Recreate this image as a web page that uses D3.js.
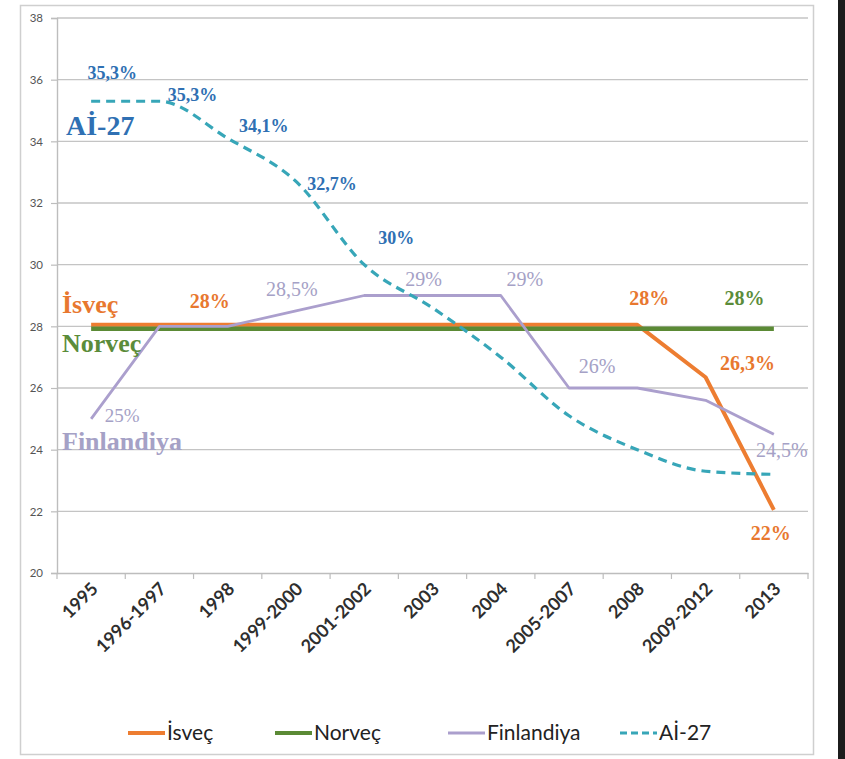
<!DOCTYPE html>
<html><head><meta charset="utf-8">
<script src="https://cdn.jsdelivr.net/npm/d3@7"></script>
<style>html,body{margin:0;padding:0;background:#fff;}svg{display:block;}</style>
</head><body>
<script>
const categories = ["1995","1996-1997","1998","1999-2000","2001-2002","2003","2004","2005-2007","2008","2009-2012","2013"];
const isvec      = [28, 28, 28, 28, 28, 28, 28, 28, 28, 26.3, 22];
const norvec     = [28, 28, 28, 28, 28, 28, 28, 28, 28, 28, 28];
const finlandiya = [25, 28, 28, 28.5, 29, 29, 29, 26, 26, 25.6, 24.5];
const ai27       = [35.3, 35.3, 34.1, 32.7, 30, 28.6, 27, 25.1, 24, 23.3, 23.2];
const yTicks = [20,22,24,26,28,30,32,34,36,38];
const seriesNames = ["İsveç","Norveç","Finlandiya","Aİ-27"];

const W = 845, H = 759;
const svg = d3.select("body").append("svg").attr("width", W).attr("height", H);
svg.append("rect").attr("width", W).attr("height", H).attr("fill", "#fff");
// frame
svg.append("rect").attr("x", 20.5).attr("y", 5.5).attr("width", 793).attr("height", 749)
  .attr("fill", "#fff").attr("stroke", "#cfcfcf").attr("stroke-width", 1.5);
// dark strip at right
svg.append("rect").attr("x", 838).attr("y", 0).attr("width", 7).attr("height", H).attr("fill", "#1c1c1c");

const x = d3.scaleBand().domain(categories).range([57, 808]).paddingInner(0).paddingOuter(0);
const y = d3.scaleLinear().domain([20, 38]).range([573, 18]);
const cx = c => x(c) + x.bandwidth() / 2;

// gridlines
svg.append("g").selectAll("line").data(yTicks.filter(t => t > 20)).join("line")
  .attr("x1", 57).attr("x2", 808).attr("y1", d => y(d)).attr("y2", d => y(d))
  .attr("stroke", "#c4c4c4").attr("stroke-width", 1.4);

// y axis
const yAxis = svg.append("g").attr("transform", "translate(57,0)")
  .call(d3.axisLeft(y).tickValues(yTicks).tickSize(6).tickPadding(8).tickFormat(d3.format("d")));
yAxis.select(".domain").attr("stroke", "#bdbdbd").attr("stroke-width", 1.4);
yAxis.selectAll(".tick line").attr("stroke", "#bdbdbd").attr("stroke-width", 1.2);
yAxis.selectAll("text").attr("font-family", "Lato, 'Open Sans', sans-serif").attr("font-size", 11.5)
  .attr("fill", "#555");

// x axis
const xAxis = svg.append("g").attr("transform", "translate(0,573)")
  .call(d3.axisBottom(x).tickSize(0).tickPadding(0));
xAxis.select(".domain").attr("stroke", "#bdbdbd").attr("stroke-width", 1.4);
// tick marks at band boundaries
const bounds = categories.map(c => x(c)).concat([x(categories[categories.length - 1]) + x.bandwidth()]);
svg.append("g").selectAll("line").data(bounds).join("line")
  .attr("x1", d => d).attr("x2", d => d)
  .attr("y1", 573).attr("y2", 579).attr("stroke", "#bdbdbd").attr("stroke-width", 1.2);
xAxis.selectAll(".tick text")
  .attr("font-family", "Lato, 'Open Sans', sans-serif").attr("font-size", 18).attr("font-weight", "bold")
  .attr("fill", "#2e2e2e")
  .attr("text-anchor", "end").attr("dy", 0)
  .attr("transform", "translate(8,17) rotate(-45)");

const colors = {isvec: "#ed7d31", norvec: "#5b8a35", fin: "#ab9fcd", ai: "#37a6b8"};

const lineStraight = d3.line().x((d, i) => cx(categories[i])).y(d => y(d));
const lineSmooth = d3.line().x((d, i) => cx(categories[i])).y(d => y(d)).curve(d3.curveMonotoneX);

svg.append("path").datum(isvec).attr("d", lineStraight).attr("fill", "none")
  .attr("stroke", colors.isvec).attr("stroke-width", 4).attr("stroke-linejoin", "round")
  .attr("transform", "translate(0,-1.5)");
svg.append("path").datum(norvec).attr("d", lineStraight).attr("fill", "none")
  .attr("stroke", colors.norvec).attr("stroke-width", 4.5)
  .attr("transform", "translate(0,2.5)");
svg.append("path").datum(finlandiya).attr("d", lineStraight).attr("fill", "none")
  .attr("stroke", colors.fin).attr("stroke-width", 2.8).attr("stroke-linejoin", "round");
svg.append("path").datum(ai27).attr("d", lineSmooth).attr("fill", "none")
  .attr("stroke", colors.ai).attr("stroke-width", 3.2).attr("stroke-dasharray", "9,6");

// data labels
const fmt = v => String(v).replace(".", ",") + "%";
const serif = "'Liberation Serif', 'Times New Roman', serif";
const labelSpecs = [
  {data: ai27, i: 0, dx: 21, dy: -22, color: "#2f70b3", w: "bold", s: 18},
  {data: ai27, i: 1, dx: 33, dy: 0, color: "#2f70b3", w: "bold", s: 18},
  {data: ai27, i: 2, dx: 36, dy: -6, color: "#2f70b3", w: "bold", s: 18},
  {data: ai27, i: 3, dx: 36, dy: 9, color: "#2f70b3", w: "bold", s: 18},
  {data: ai27, i: 4, dx: 32, dy: -21, color: "#2f70b3", w: "bold", s: 18},
  {data: isvec, i: 2, dx: -18, dy: -18, color: "#e8782f", w: "bold", s: 20},
  {data: isvec, i: 8, dx: 12, dy: -21, color: "#e8782f", w: "bold", s: 20},
  {data: isvec, i: 9, dx: 42, dy: -9, color: "#e8782f", w: "bold", s: 20},
  {data: isvec, i: 10, dx: -3, dy: 29, color: "#e8782f", w: "bold", s: 20},
  {data: norvec, i: 9, dx: 39, dy: -21, color: "#5b8c3a", w: "bold", s: 20},
  {data: finlandiya, i: 0, dx: 31, dy: 3, color: "#a5a1c6", w: "normal", s: 19},
  {data: finlandiya, i: 3, dx: -4, dy: -15, color: "#a5a1c6", w: "normal", s: 20},
  {data: finlandiya, i: 5, dx: -9, dy: -10, color: "#a5a1c6", w: "normal", s: 20},
  {data: finlandiya, i: 6, dx: 24, dy: -10, color: "#a5a1c6", w: "normal", s: 20},
  {data: finlandiya, i: 7, dx: 28, dy: -15, color: "#a5a1c6", w: "normal", s: 20},
  {data: finlandiya, i: 10, dx: 8, dy: 23, color: "#a5a1c6", w: "normal", s: 20}
];
svg.append("g").selectAll("text").data(labelSpecs).join("text")
  .attr("x", d => cx(categories[d.i]) + d.dx)
  .attr("y", d => y(d.data[d.i]) + d.dy)
  .attr("text-anchor", "middle")
  .attr("font-family", serif).attr("font-weight", d => d.w).attr("font-size", d => d.s)
  .attr("fill", d => d.color).text(d => fmt(d.data[d.i]));

// series names inside chart
const nameSpecs = [
  {name: seriesNames[3], x: 66, y: 135, color: "#2f70b3", s: 28},
  {name: seriesNames[0], x: 62, y: 313, color: "#e8782f", s: 26},
  {name: seriesNames[1], x: 62, y: 352, color: "#5b8c3a", s: 26},
  {name: seriesNames[2], x: 62, y: 450, color: "#a5a1c6", s: 26}
];
svg.append("g").selectAll("text").data(nameSpecs).join("text")
  .attr("x", d => d.x).attr("y", d => d.y)
  .attr("font-family", serif).attr("font-weight", "bold").attr("font-size", d => d.s)
  .attr("fill", d => d.color).text(d => d.name);

// legend
const legendItems = [
  {name: seriesNames[0], color: colors.isvec, x: 128, dash: null, w: 4},
  {name: seriesNames[1], color: colors.norvec, x: 275, dash: null, w: 4},
  {name: seriesNames[2], color: colors.fin, x: 448, dash: null, w: 3},
  {name: seriesNames[3], color: colors.ai, x: 620, dash: "7,4", w: 3}
];
const lg = svg.append("g").selectAll("g").data(legendItems).join("g")
  .attr("transform", d => `translate(${d.x},733)`);
lg.append("line").attr("x1", 0).attr("x2", 37).attr("y1", 0).attr("y2", 0)
  .attr("stroke", d => d.color).attr("stroke-width", d => d.w)
  .attr("stroke-dasharray", d => d.dash);
lg.append("text").attr("x", 39).attr("y", 7)
  .attr("font-family", "Lato, 'Open Sans', sans-serif").attr("font-size", 21).attr("fill", "#222")
  .text(d => d.name);
</script>
</body></html>
